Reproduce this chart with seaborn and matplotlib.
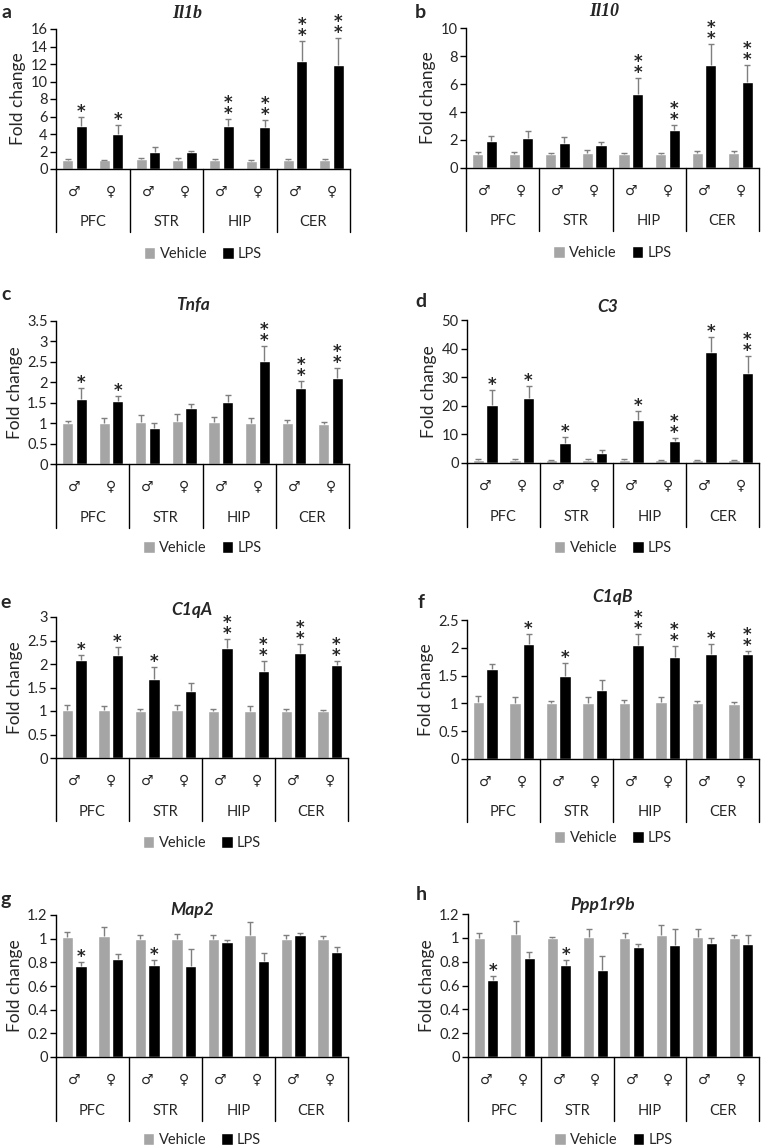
import numpy as np
import pandas as pd
import matplotlib
matplotlib.use("Agg")
import matplotlib.pyplot as plt
import seaborn as sns
from matplotlib.transforms import blended_transform_factory

# categories
regions = ["PFC", "STR", "HIP", "CER"]
sexes = ["♂", "♀"]
treatments = ["Vehicle", "LPS"]
positions = [f"{r} {s}" for r in regions for s in sexes]

# a - Il1b
il1b_veh = [1.0, 1.0, 1.1, 1.05, 1.0, 0.95, 1.0, 1.0]
il1b_veh_err = [0.1, 0.08, 0.2, 0.2, 0.12, 0.06, 0.12, 0.15]
il1b_lps = [4.88, 4.04, 1.98, 1.9, 4.91, 4.8, 12.38, 11.89]
il1b_lps_err = [1.1, 1.0, 0.5, 0.12, 0.8, 0.76, 2.3, 3.05]
il1b_sig = ["*", "*", "", "", "**", "**", "**", "**"]

# b - Il10
il10_veh = [1.0, 1.0, 1.0, 1.05, 1.0, 1.0, 1.05, 1.05]
il10_veh_err = [0.12, 0.12, 0.1, 0.2, 0.1, 0.1, 0.15, 0.15]
il10_lps = [1.9, 2.14, 1.76, 1.62, 5.26, 2.71, 7.33, 6.17]
il10_lps_err = [0.36, 0.5, 0.48, 0.26, 1.14, 0.38, 1.5, 1.19]
il10_sig = ["", "", "", "", "**", "**", "**", "**"]

# c - Tnfa
tnfa_veh = [1.0, 1.01, 1.04, 1.06, 1.03, 1.01, 1.0, 0.99]
tnfa_veh_err = [0.06, 0.11, 0.15, 0.17, 0.12, 0.11, 0.07, 0.04]
tnfa_lps = [1.59, 1.54, 0.88, 1.38, 1.51, 2.51, 1.86, 2.1]
tnfa_lps_err = [0.28, 0.12, 0.12, 0.1, 0.18, 0.38, 0.17, 0.24]
tnfa_sig = ["*", "*", "", "", "", "**", "**", "**"]

# d - C3
c3_veh = [1.0, 1.0, 1.0, 1.0, 1.0, 0.9, 0.9, 0.9]
c3_veh_err = [0.3, 0.3, 0.2, 0.3, 0.3, 0.2, 0.2, 0.3]
c3_lps = [20.2, 22.7, 7.1, 3.6, 14.9, 7.6, 38.7, 31.4]
c3_lps_err = [5.2, 4.1, 1.9, 0.9, 3.2, 1.1, 5.5, 5.9]
c3_sig = ["*", "*", "*", "", "*", "**", "*", "**"]

# e - C1qA
c1qa_veh = [1.02, 1.02, 1.0, 1.02, 1.0, 1.0, 1.0, 1.0]
c1qa_veh_err = [0.11, 0.09, 0.05, 0.1, 0.05, 0.1, 0.05, 0.03]
c1qa_lps = [2.09, 2.19, 1.69, 1.42, 2.35, 1.85, 2.24, 1.98]
c1qa_lps_err = [0.11, 0.17, 0.24, 0.17, 0.19, 0.21, 0.19, 0.09]
c1qa_sig = ["*", "*", "*", "", "**", "**", "**", "**"]

# f - C1qB
c1qb_veh = [1.02, 1.0, 1.0, 1.0, 1.0, 1.02, 1.0, 0.99]
c1qb_veh_err = [0.11, 0.11, 0.05, 0.11, 0.06, 0.09, 0.05, 0.03]
c1qb_lps = [1.61, 2.07, 1.49, 1.25, 2.05, 1.84, 1.88, 1.88]
c1qb_lps_err = [0.1, 0.17, 0.23, 0.17, 0.19, 0.2, 0.19, 0.07]
c1qb_sig = ["", "*", "*", "", "**", "**", "*", "**"]

# g - Map2
map2_veh = [1.01, 1.02, 1.0, 1.0, 1.0, 1.03, 1.0, 1.0]
map2_veh_err = [0.05, 0.08, 0.03, 0.04, 0.03, 0.11, 0.03, 0.02]
map2_lps = [0.77, 0.83, 0.78, 0.77, 0.97, 0.81, 1.03, 0.89]
map2_lps_err = [0.03, 0.04, 0.04, 0.14, 0.02, 0.07, 0.02, 0.04]
map2_sig = ["*", "", "*", "", "", "", "", ""]

# h - Ppp1r9b
ppp_veh = [1.0, 1.03, 1.0, 1.01, 1.0, 1.02, 1.01, 1.0]
ppp_veh_err = [0.04, 0.11, 0.01, 0.06, 0.04, 0.09, 0.06, 0.02]
ppp_lps = [0.65, 0.83, 0.77, 0.73, 0.92, 0.94, 0.96, 0.95]
ppp_lps_err = [0.03, 0.05, 0.04, 0.12, 0.03, 0.13, 0.04, 0.07]
ppp_sig = ["*", "", "*", "", "", "", "", ""]

panels = [
    ("a", "Il1b", il1b_veh, il1b_veh_err, il1b_lps, il1b_lps_err, il1b_sig, np.arange(0, 17, 2)),
    ("b", "Il10", il10_veh, il10_veh_err, il10_lps, il10_lps_err, il10_sig, np.arange(0, 11, 2)),
    ("c", "Tnfa", tnfa_veh, tnfa_veh_err, tnfa_lps, tnfa_lps_err, tnfa_sig, np.arange(0, 3.6, 0.5)),
    ("d", "C3", c3_veh, c3_veh_err, c3_lps, c3_lps_err, c3_sig, np.arange(0, 51, 10)),
    ("e", "C1qA", c1qa_veh, c1qa_veh_err, c1qa_lps, c1qa_lps_err, c1qa_sig, np.arange(0, 3.1, 0.5)),
    ("f", "C1qB", c1qb_veh, c1qb_veh_err, c1qb_lps, c1qb_lps_err, c1qb_sig, np.arange(0, 2.6, 0.5)),
    ("g", "Map2", map2_veh, map2_veh_err, map2_lps, map2_lps_err, map2_sig, np.arange(0, 1.21, 0.2)),
    ("h", "Ppp1r9b", ppp_veh, ppp_veh_err, ppp_lps, ppp_lps_err, ppp_sig, np.arange(0, 1.21, 0.2)),
]

# layout in pixels: axes box (left, top, right, bottom), title x/y, letter x/y, legend y
W, H = 762, 1146
boxes = [(56, 29, 350, 169), (466, 28, 759, 168),
         (56, 321, 349, 464), (467, 320, 759, 463),
         (56, 617, 348, 758), (467, 620, 759, 759),
         (56, 915, 348, 1057), (468, 914, 759, 1057)]
title_xy = [(187, 13), (604, 12), (193, 305), (608, 307),
            (192, 610), (613, 597), (192, 910), (603, 905)]
letter_xy = [(7, 13), (420, 12), (6, 295), (421, 302),
             (6, 603), (421, 602), (6, 900), (421, 895)]
legend_y = [254, 253, 548, 548, 843, 838, 1140, 1140]

sns.set_style("white")
plt.rcParams["font.family"] = ["Lato", "DejaVu Sans"]

GREY = "#a5a5a5"
fig = plt.figure(figsize=(W / 100, H / 100), dpi=100)

for i, (letter, gene, veh, veh_err, lps, lps_err, sig, yticks) in enumerate(panels):
    l, t, r, b = boxes[i]
    ax = fig.add_axes([l / W, 1 - b / H, (r - l) / W, (b - t) / H])

    df = pd.DataFrame({
        "pos": positions * 2,
        "treatment": ["Vehicle"] * 8 + ["LPS"] * 8,
        "value": list(veh) + list(lps),
    })
    sns.barplot(data=df, x="pos", y="value", hue="treatment", order=positions,
                hue_order=treatments, palette=[GREY, "black"], errorbar=None,
                width=0.74, gap=0.18, saturation=1, ax=ax, legend=True)

    for cont, err in zip(ax.containers, [veh_err, lps_err]):
        xs = [p.get_x() + p.get_width() / 2 for p in cont.patches]
        hs = [p.get_height() for p in cont.patches]
        eb = ax.errorbar(xs, hs, yerr=[np.zeros(len(err)), err], fmt="none",
                         ecolor="#7f7f7f", elinewidth=1, capsize=2.5, capthick=1, zorder=3)
        eb.lines[1][0].set_visible(False)

    # significance stars above LPS bars
    for p, e, s in zip(ax.containers[1].patches, lps_err, sig):
        if not s:
            continue
        top = p.get_height() + e
        ax.annotate("\n".join(s), xy=(p.get_x() + p.get_width() / 2, top),
                    xytext=(0, 0), textcoords="offset points",
                    ha="center", va="baseline", fontsize=12, fontweight="bold",
                    linespacing=0.5, family="DejaVu Sans", annotation_clip=False)

    ax.set_ylim(0, yticks[-1])
    ax.set_xlim(-0.5, 7.5)
    ax.set_yticks(yticks)
    ax.set_yticklabels([f"{v:g}" for v in yticks], fontsize=10.5)
    ax.set_xticks(range(8))
    ax.set_xticklabels(sexes * 4, fontsize=10)
    ax.tick_params(axis="x", length=0, pad=12)
    ax.tick_params(axis="y", length=4, width=1, color="black", left=True, pad=2)
    ax.set_xlabel("")
    ax.set_ylabel("Fold change", fontsize=12.5, labelpad=3)
    sns.despine(ax=ax)
    for sp in ["left", "bottom"]:
        ax.spines[sp].set_color("black")
        ax.spines[sp].set_linewidth(1)

    # category box below axis
    trans = blended_transform_factory(ax.transData, ax.transAxes)
    for xb in [-0.5, 1.5, 3.5, 5.5, 7.5]:
        ax.plot([xb, xb], [0, -0.45], color="black", lw=1, transform=trans, clip_on=False)
    for j, reg in enumerate(regions):
        ax.text(2 * j + 0.5, -0.38, reg, transform=trans, ha="center", va="center", fontsize=10.5)

    handles, labels = ax.get_legend_handles_labels()
    ax.legend(handles, labels, loc="center", ncol=2, frameon=False, fontsize=10.5,
              bbox_to_anchor=((l + r) / 2 / W, 1 - legend_y[i] / H), bbox_transform=fig.transFigure,
              handlelength=0.8, handleheight=0.8, handletextpad=0.3, columnspacing=1.0)

    tx, ty = title_xy[i]
    if gene in ("Il1b", "Il10"):
        fig.text(tx / W, 1 - ty / H, gene, ha="center", va="center", fontsize=13,
                 fontweight="bold", style="italic", family="Liberation Serif")
    else:
        fig.text(tx / W, 1 - ty / H, gene, ha="center", va="center", fontsize=12.5,
                 fontweight="bold", style="italic")
    lx, ly = letter_xy[i]
    fig.text(lx / W, 1 - ly / H, letter, ha="center", va="center", fontsize=14, fontweight="bold")

fig.savefig("out.png", dpi=100)
